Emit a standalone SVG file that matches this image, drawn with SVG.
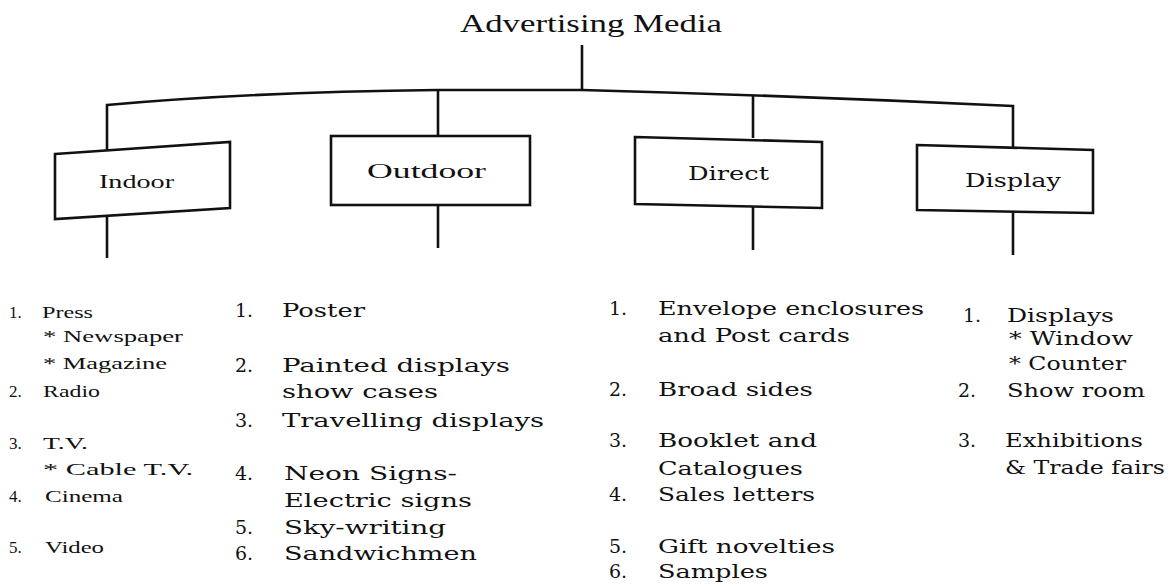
<svg xmlns="http://www.w3.org/2000/svg" width="1172" height="586" viewBox="0 0 1172 586">
<style>
.ln{fill:none;stroke:#111;stroke-width:2.6;stroke-linejoin:miter}
.box{fill:#fff;stroke:#111;stroke-width:2.6}
.t{font-family:"Liberation Serif","Times New Roman",serif;fill:#111}
.c{font-family:"DejaVu Serif","Liberation Serif",serif;fill:#111}
.s17{font-size:17px}
.s19{font-size:19px}
</style>
<rect width="1172" height="586" fill="#fff"/>
<g id="title">
<text class="t" x="460" y="32" font-size="26" textLength="262" lengthAdjust="spacingAndGlyphs">Advertising Media</text>
</g>
<g id="connectors">
<path class="ln" d="M582,45 V90"/>
<path class="ln" d="M107,150 V105 Q250,92 438,90 L582,90 Q800,96 1013,106 V148"/>
<path class="ln" d="M438,90 V136"/>
<path class="ln" d="M753,96 V138"/>
<path class="ln" d="M107,216 V258"/>
<path class="ln" d="M438,205 V248"/>
<path class="ln" d="M753,206 V250"/>
<path class="ln" d="M1013,212 V255"/>
</g>
<g id="indoor">
<polygon class="box" points="55,154 230,142 230,208 55,219"/>
<text class="t" x="99" y="188" font-size="19" textLength="75" lengthAdjust="spacingAndGlyphs">Indoor</text>
</g>
<g id="outdoor">
<rect class="box" x="331" y="136" width="199" height="69"/>
<text class="t" x="367" y="178" font-size="21" textLength="119" lengthAdjust="spacingAndGlyphs">Outdoor</text>
</g>
<g id="direct">
<polygon class="box" points="635,137 822,142 822,208 635,204"/>
<text class="c" x="688" y="180" font-size="19" textLength="81" lengthAdjust="spacingAndGlyphs">Direct</text>
</g>
<g id="display">
<polygon class="box" points="917,145 1093,150 1093,213 917,210"/>
<text class="c" x="965" y="187" font-size="19" textLength="96" lengthAdjust="spacingAndGlyphs">Display</text>
</g>
<g id="indoor-list" class="t s17">
<text x="9" y="318">1.</text><text x="42" y="318" textLength="51" lengthAdjust="spacingAndGlyphs">Press</text>
<text x="43" y="342" textLength="140" lengthAdjust="spacingAndGlyphs">* Newspaper</text>
<text x="43" y="369" textLength="124" lengthAdjust="spacingAndGlyphs">* Magazine</text>
<text x="9" y="397">2.</text><text x="43" y="397" textLength="57" lengthAdjust="spacingAndGlyphs">Radio</text>
<text x="9" y="449">3.</text><text x="43" y="449" textLength="45" lengthAdjust="spacingAndGlyphs">T.V.</text>
<text x="43" y="475" textLength="150" lengthAdjust="spacingAndGlyphs">*  Cable T.V.</text>
<text x="9" y="502">4.</text><text x="45" y="502" textLength="78" lengthAdjust="spacingAndGlyphs">Cinema</text>
<text x="9" y="553">5.</text><text x="45" y="553" textLength="59" lengthAdjust="spacingAndGlyphs">Video</text>
</g>
<g id="outdoor-list" class="c s19">
<text x="235" y="317">1.</text><text x="282" y="317" textLength="83" lengthAdjust="spacingAndGlyphs">Poster</text>
<text x="235" y="372">2.</text><text x="282" y="372" textLength="228" lengthAdjust="spacingAndGlyphs">Painted displays</text>
<text x="282" y="398" textLength="156" lengthAdjust="spacingAndGlyphs">show cases</text>
<text x="235" y="427">3.</text><text x="282" y="427" textLength="262" lengthAdjust="spacingAndGlyphs">Travelling displays</text>
<text x="235" y="480">4.</text><text x="284" y="480" textLength="173" lengthAdjust="spacingAndGlyphs">Neon Signs-</text>
<text x="284" y="507" textLength="188" lengthAdjust="spacingAndGlyphs">Electric signs</text>
<text x="235" y="534">5.</text><text x="284" y="534" textLength="162" lengthAdjust="spacingAndGlyphs">Sky-writing</text>
<text x="235" y="560">6.</text><text x="284" y="560" textLength="193" lengthAdjust="spacingAndGlyphs">Sandwichmen</text>
</g>
<g id="direct-list" class="c s19">
<text x="609" y="315">1.</text><text x="658" y="315" textLength="266" lengthAdjust="spacingAndGlyphs">Envelope enclosures</text>
<text x="658" y="342" textLength="192" lengthAdjust="spacingAndGlyphs">and Post cards</text>
<text x="609" y="396">2.</text><text x="658" y="396" textLength="155" lengthAdjust="spacingAndGlyphs">Broad sides</text>
<text x="609" y="447">3.</text><text x="658" y="447" textLength="159" lengthAdjust="spacingAndGlyphs">Booklet and</text>
<text x="658" y="475" textLength="145" lengthAdjust="spacingAndGlyphs">Catalogues</text>
<text x="609" y="501">4.</text><text x="658" y="501" textLength="157" lengthAdjust="spacingAndGlyphs">Sales letters</text>
<text x="609" y="553">5.</text><text x="658" y="553" textLength="177" lengthAdjust="spacingAndGlyphs">Gift novelties</text>
<text x="609" y="578">6.</text><text x="658" y="578" textLength="110" lengthAdjust="spacingAndGlyphs">Samples</text>
</g>
<g id="display-list" class="c s19">
<text x="963" y="322">1.</text><text x="1007" y="322" textLength="107" lengthAdjust="spacingAndGlyphs">Displays</text>
<text x="1009" y="345" textLength="124" lengthAdjust="spacingAndGlyphs">* Window</text>
<text x="1009" y="370" textLength="117" lengthAdjust="spacingAndGlyphs">* Counter</text>
<text x="958" y="397">2.</text><text x="1007" y="397" textLength="138" lengthAdjust="spacingAndGlyphs">Show room</text>
<text x="958" y="447">3.</text><text x="1005" y="447" textLength="138" lengthAdjust="spacingAndGlyphs">Exhibitions</text>
<text x="1005" y="474" textLength="160" lengthAdjust="spacingAndGlyphs">&amp; Trade fairs</text>
</g>
</svg>
